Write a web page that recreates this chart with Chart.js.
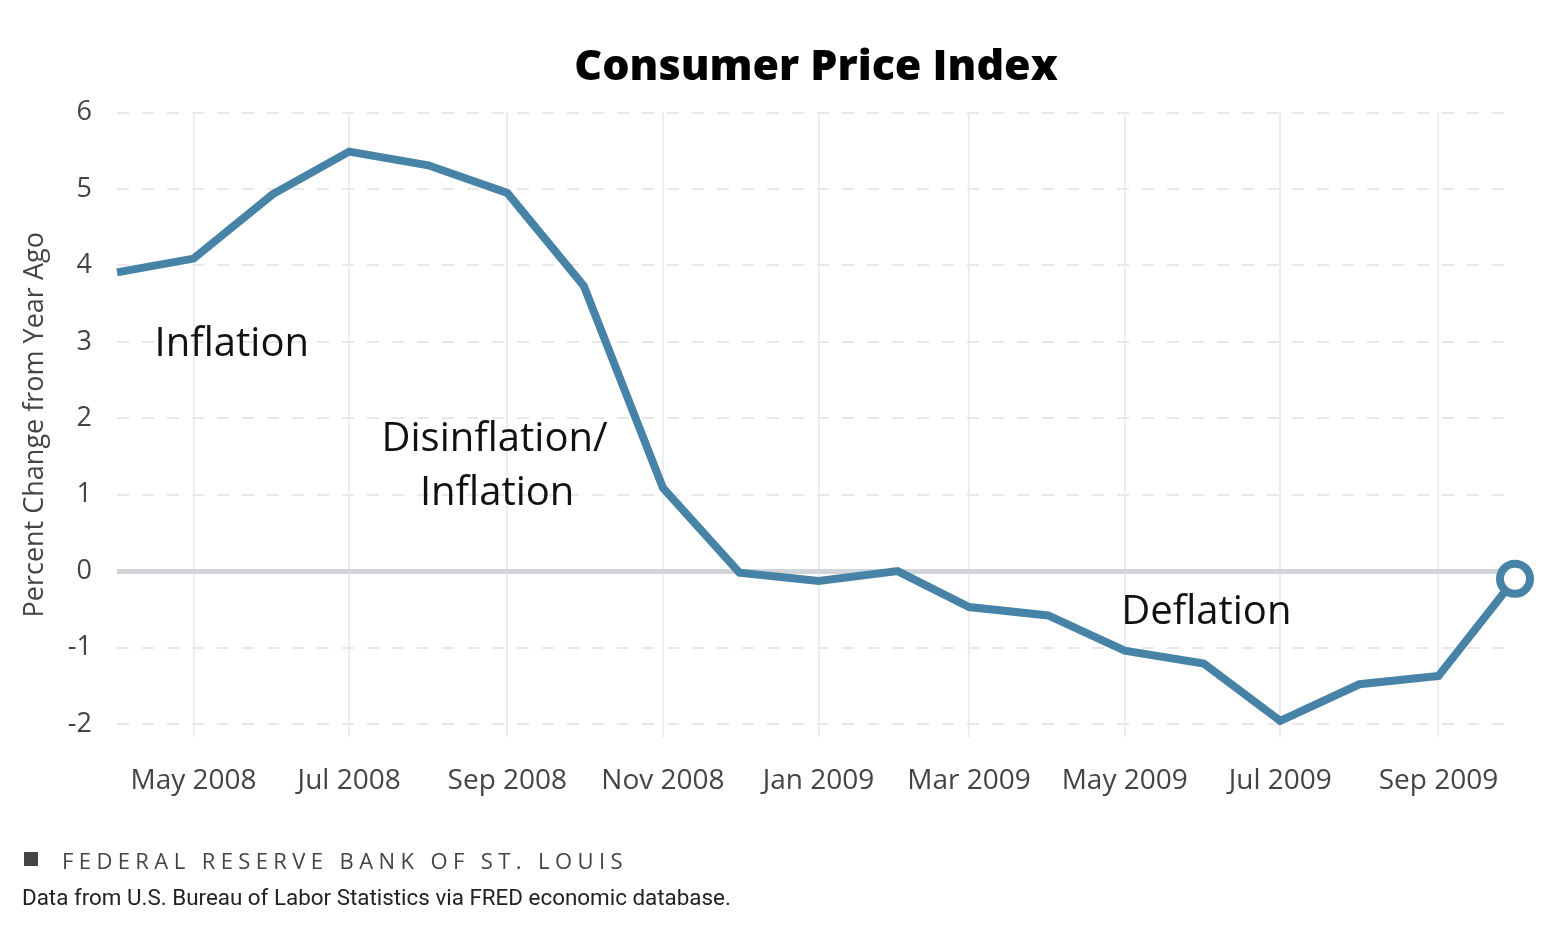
<!DOCTYPE html>
<html>
<head>
<meta charset="utf-8">
<script src="https://cdn.jsdelivr.net/npm/chart.js"></script>
<style>
  body { margin: 0; background: #fff; }
  #wrap { position: relative; width: 1568px; height: 938px; }
  .source {
    position: absolute; left: 62px; top: 845px;
    font-family: "Open Sans", sans-serif; font-size: 22px; letter-spacing: 5.4px; color: #444;
  }
  .square { position: absolute; left: 24px; top: 852px; width: 14px; height: 14px; background: #444; }
  .note {
    position: absolute; left: 22px; top: 884px;
    font-family: "Liberation Sans Narrow", "Roboto", sans-serif; font-size: 22.4px; color: #222;
  }
</style>
</head>
<body>
<div id="wrap">
  <canvas id="cpiChart" width="1568" height="938"></canvas>
  <div class="square"></div>
  <div class="source">FEDERAL RESERVE BANK OF ST. LOUIS</div>
  <div class="note">Data from U.S. Bureau of Labor Statistics via FRED economic database.</div>
</div>
<script>
const months = [
    '2008-04', '2008-05', '2008-06', '2008-07', '2008-08', '2008-09', '2008-10',
    '2008-11', '2008-12', '2009-01', '2009-02', '2009-03', '2009-04', '2009-05',
    '2009-06', '2009-07', '2009-08', '2009-09', '2009-10'
];
const cpi = [
    3.91, 4.09, 4.93, 5.49, 5.31, 4.95, 3.73,
    1.09, -0.02, -0.13, 0.00, -0.47, -0.58, -1.04,
    -1.21, -1.96, -1.48, -1.37, -0.10
];
const tickMonths = ['2008-05', '2008-07', '2008-09', '2008-11', '2009-01', '2009-03', '2009-05', '2009-07', '2009-09'];
const tickLabels = ['May 2008', 'Jul 2008', 'Sep 2008', 'Nov 2008', 'Jan 2009', 'Mar 2009', 'May 2009', 'Jul 2009', 'Sep 2009'];
const yTicks = [-2, -1, 0, 1, 2, 3, 4, 5, 6];

// days since the first month, so the x axis is spaced like a time axis
function dayOf(m) {
    const [y, mo] = m.split('-').map(Number);
    const [y0, m0] = months[0].split('-').map(Number);
    return (Date.UTC(y, mo - 1, 1) - Date.UTC(y0, m0 - 1, 1)) / 86400000;
}

const lineColor = '#4783a6';
const font = '"Open Sans", sans-serif';

const annotations = {
    id: 'annotations',
    afterDatasetsDraw(chart) {
        const { ctx, scales: { x, y } } = chart;
        ctx.save();
        ctx.fillStyle = '#111';
        ctx.font = '40px ' + font;
        ctx.textAlign = 'center';
        ctx.textBaseline = 'middle';
        ctx.fillText('Inflation', x.getPixelForValue(dayOf('2008-05') + 15), y.getPixelForValue(2.97));
        ctx.fillText('Disinflation/', x.getPixelForValue(dayOf('2008-09') - 5), y.getPixelForValue(1.72));
        ctx.fillText('Inflation', x.getPixelForValue(dayOf('2008-09') - 4), y.getPixelForValue(1.02));
        ctx.fillText('Deflation', x.getPixelForValue(dayOf('2009-06') + 1), y.getPixelForValue(-0.54));
        ctx.restore();
    }
};

new Chart(document.getElementById('cpiChart'), {
    type: 'line',
    data: {
        datasets: [{
            data: months.map((m, i) => ({ x: dayOf(m), y: cpi[i] })),
            borderColor: lineColor,
            borderWidth: 8,
            pointRadius: ctx => ctx.dataIndex === cpi.length - 1 ? 15 : 0,
            pointBorderWidth: 8,
            pointBackgroundColor: '#fff',
            pointBorderColor: lineColor,
            clip: false
        }]
    },
    options: {
        responsive: false,
        animation: false,
        layout: {
            padding: { left: 0, right: 53, top: 0, bottom: 131 }
        },
        plugins: {
            legend: { display: false },
            tooltip: { enabled: false },
            title: {
                display: true,
                text: 'Consumer Price Index',
                fullSize: false,
                color: '#000',
                font: { family: font, size: 43, weight: 800 },
                padding: { top: 42, bottom: 19 }
            }
        },
        scales: {
            x: {
                type: 'linear',
                min: 0,
                max: dayOf(months[months.length - 1]),
                afterBuildTicks: scale => {
                    scale.ticks = tickMonths.map(m => ({ value: dayOf(m) }));
                },
                afterFit: scale => { scale.height = 70; },
                ticks: {
                    autoSkip: false,
                    maxRotation: 0,
                    padding: 27,
                    color: '#444',
                    font: { family: font, size: 28 },
                    callback: value => tickLabels[tickMonths.findIndex(m => dayOf(m) === value)]
                },
                grid: {
                    drawTicks: false,
                    color: '#ededed',
                    lineWidth: 2
                },
                border: { display: false }
            },
            y: {
                min: -2.17,
                max: 6,
                afterBuildTicks: scale => {
                    scale.ticks = yTicks.map(v => ({ value: v }));
                },
                afterFit: scale => { scale.width = 117; },
                ticks: {
                    padding: 25,
                    color: '#444',
                    font: { family: font, size: 27 }
                },
                grid: {
                    drawTicks: false,
                    color: ctx => ctx.tick && ctx.tick.value === 0 ? '#d2d6da' : '#e8e8e8',
                    lineWidth: ctx => ctx.tick && ctx.tick.value === 0 ? 5 : 2
                },
                border: {
                    display: false,
                    dash: ctx => ctx.tick && ctx.tick.value === 0 ? [] : [12, 13]
                },
                title: {
                    display: true,
                    text: 'Percent Change from Year Ago',
                    color: '#444',
                    font: { family: font, size: 27 },
                    padding: { top: 19, bottom: 0 }
                }
            }
        }
    },
    plugins: [annotations]
});
</script>
</body>
</html>
